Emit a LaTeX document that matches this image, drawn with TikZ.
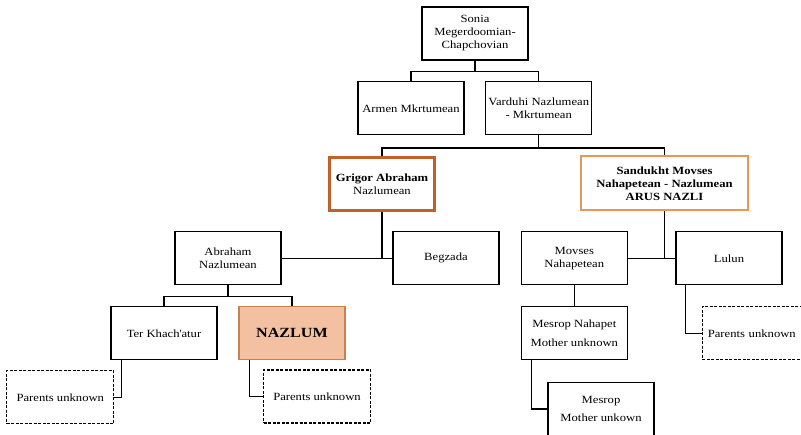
\documentclass[tikz,border=0pt]{standalone}
\usepackage{fontspec}
\setmainfont{Liberation Serif}[FakeStretch=1.15]
\usepackage{xcolor}
\usetikzlibrary{positioning}

\definecolor{rustline}{HTML}{C0602A}
\definecolor{peachline}{HTML}{E8965A}
\definecolor{peachfill}{HTML}{F3C1A1}
\definecolor{peachdraw}{HTML}{C8804F}

\begin{document}
\begin{tikzpicture}[
      x=1pt, y=-1pt,
      font=\fontsize{11}{13}\selectfont,
      person/.style={rectangle, draw, line width=1.4pt, minimum width=106pt, minimum height=53pt, align=center, inner sep=2pt},
      tall/.style={person, font=\fontsize{11}{18.5}\selectfont},
      unknown/.style={person, line width=1.2pt, dash pattern=on 3pt off 1.5pt, minimum width=107pt},
      line/.style={draw, line width=1.5pt}
    ]
    \useasboundingbox (0,0) rectangle (801,435);
    % generation 1 and 2
    \node[person] (sonia) at (475,33.5) {Sonia\\Megerdoomian-\\Chapchovian};
    \node[person] (armen) at (411,108.3) {Armen Mkrtumean};
    \node[person] (varduhi) at (538.7,108.3) {Varduhi Nazlumean\\- Mkrtumean};
    % the couple
    \node[person, draw=rustline, line width=3.2pt, minimum width=105pt, minimum height=53pt] (grigor) at (382,184) {\textbf{Grigor Abraham}\\Nazlumean};
    \node[person, draw=peachline, line width=2pt, minimum width=167pt, minimum height=54pt, font=\fontsize{11}{13}\selectfont\bfseries] (sandukht) at (664.5,183.5) {Sandukht Movses\\Nahapetean - Nazlumean\\ARUS NAZLI};
    % their parents
    \node[person] (abraham) at (228,258.3) {Abraham\\Nazlumean};
    \node[person] (begzada) at (446,258.3) {Begzada};
    \node[person] (movses) at (574.3,258.3) {Movses\\Nahapetean};
    \node[person] (lulun) at (729,258.3) {Lulun};
    % further back
    \node[person] (ter) at (164,333.3) {Ter Khach\textquotesingle atur};
    \node[person, fill=peachfill, draw=peachdraw, font=\fontsize{14}{16}\selectfont\bfseries] (nazlum) at (292,333.3) {NAZLUM};
    \node[tall] (mnahapet) at (574.3,333.3) {Mesrop Nahapet\\Mother unknown};
    \node[tall] (mesrop) at (601,409) {Mesrop\\Mother unkown};
    \node[unknown] (pu1) at (60.3,397.3) {Parents unknown};
    \node[unknown] (pu2) at (317,396.5) {Parents unknown};
    \node[unknown, anchor=west, text width=96pt, align=left, inner sep=4pt] (pu3) at (701.7,333.3) {Parents unknown};

    \draw[line] (sonia.south) -- ++(0,11) -| (armen.north);
    \draw[line] (sonia.south) ++(0,11) -| (varduhi.north);
    \draw[line] (varduhi.south) -- ++(0,12.5) -| (grigor.north);
    \draw[line] (varduhi.south) ++(0,12.5) -| (sandukht.north);
    \draw[line] (abraham.east) -- (begzada.west);
    \draw[line] (grigor.south) -- (grigor.south |- abraham.east);
    \draw[line] (movses.east) -- (lulun.west);
    \draw[line] (sandukht.south) -- (sandukht.south |- movses.east);
    \draw[line] (abraham.south) -- ++(0,11) -| (ter.north);
    \draw[line] (abraham.south) ++(0,11) -| (nazlum.north);
    \draw[line] (movses) -- (mnahapet);
    \draw[line] ([xshift=11pt]ter.south west) |- (pu1.east);
    \draw[line] ([xshift=11pt]nazlum.south west) |- (pu2.west);
    \draw[line] ([xshift=11pt]mnahapet.south west) |- (mesrop.west);
    \draw[line] ([xshift=10pt]lulun.south west) |- (pu3.west);
  \end{tikzpicture}
\end{document}
